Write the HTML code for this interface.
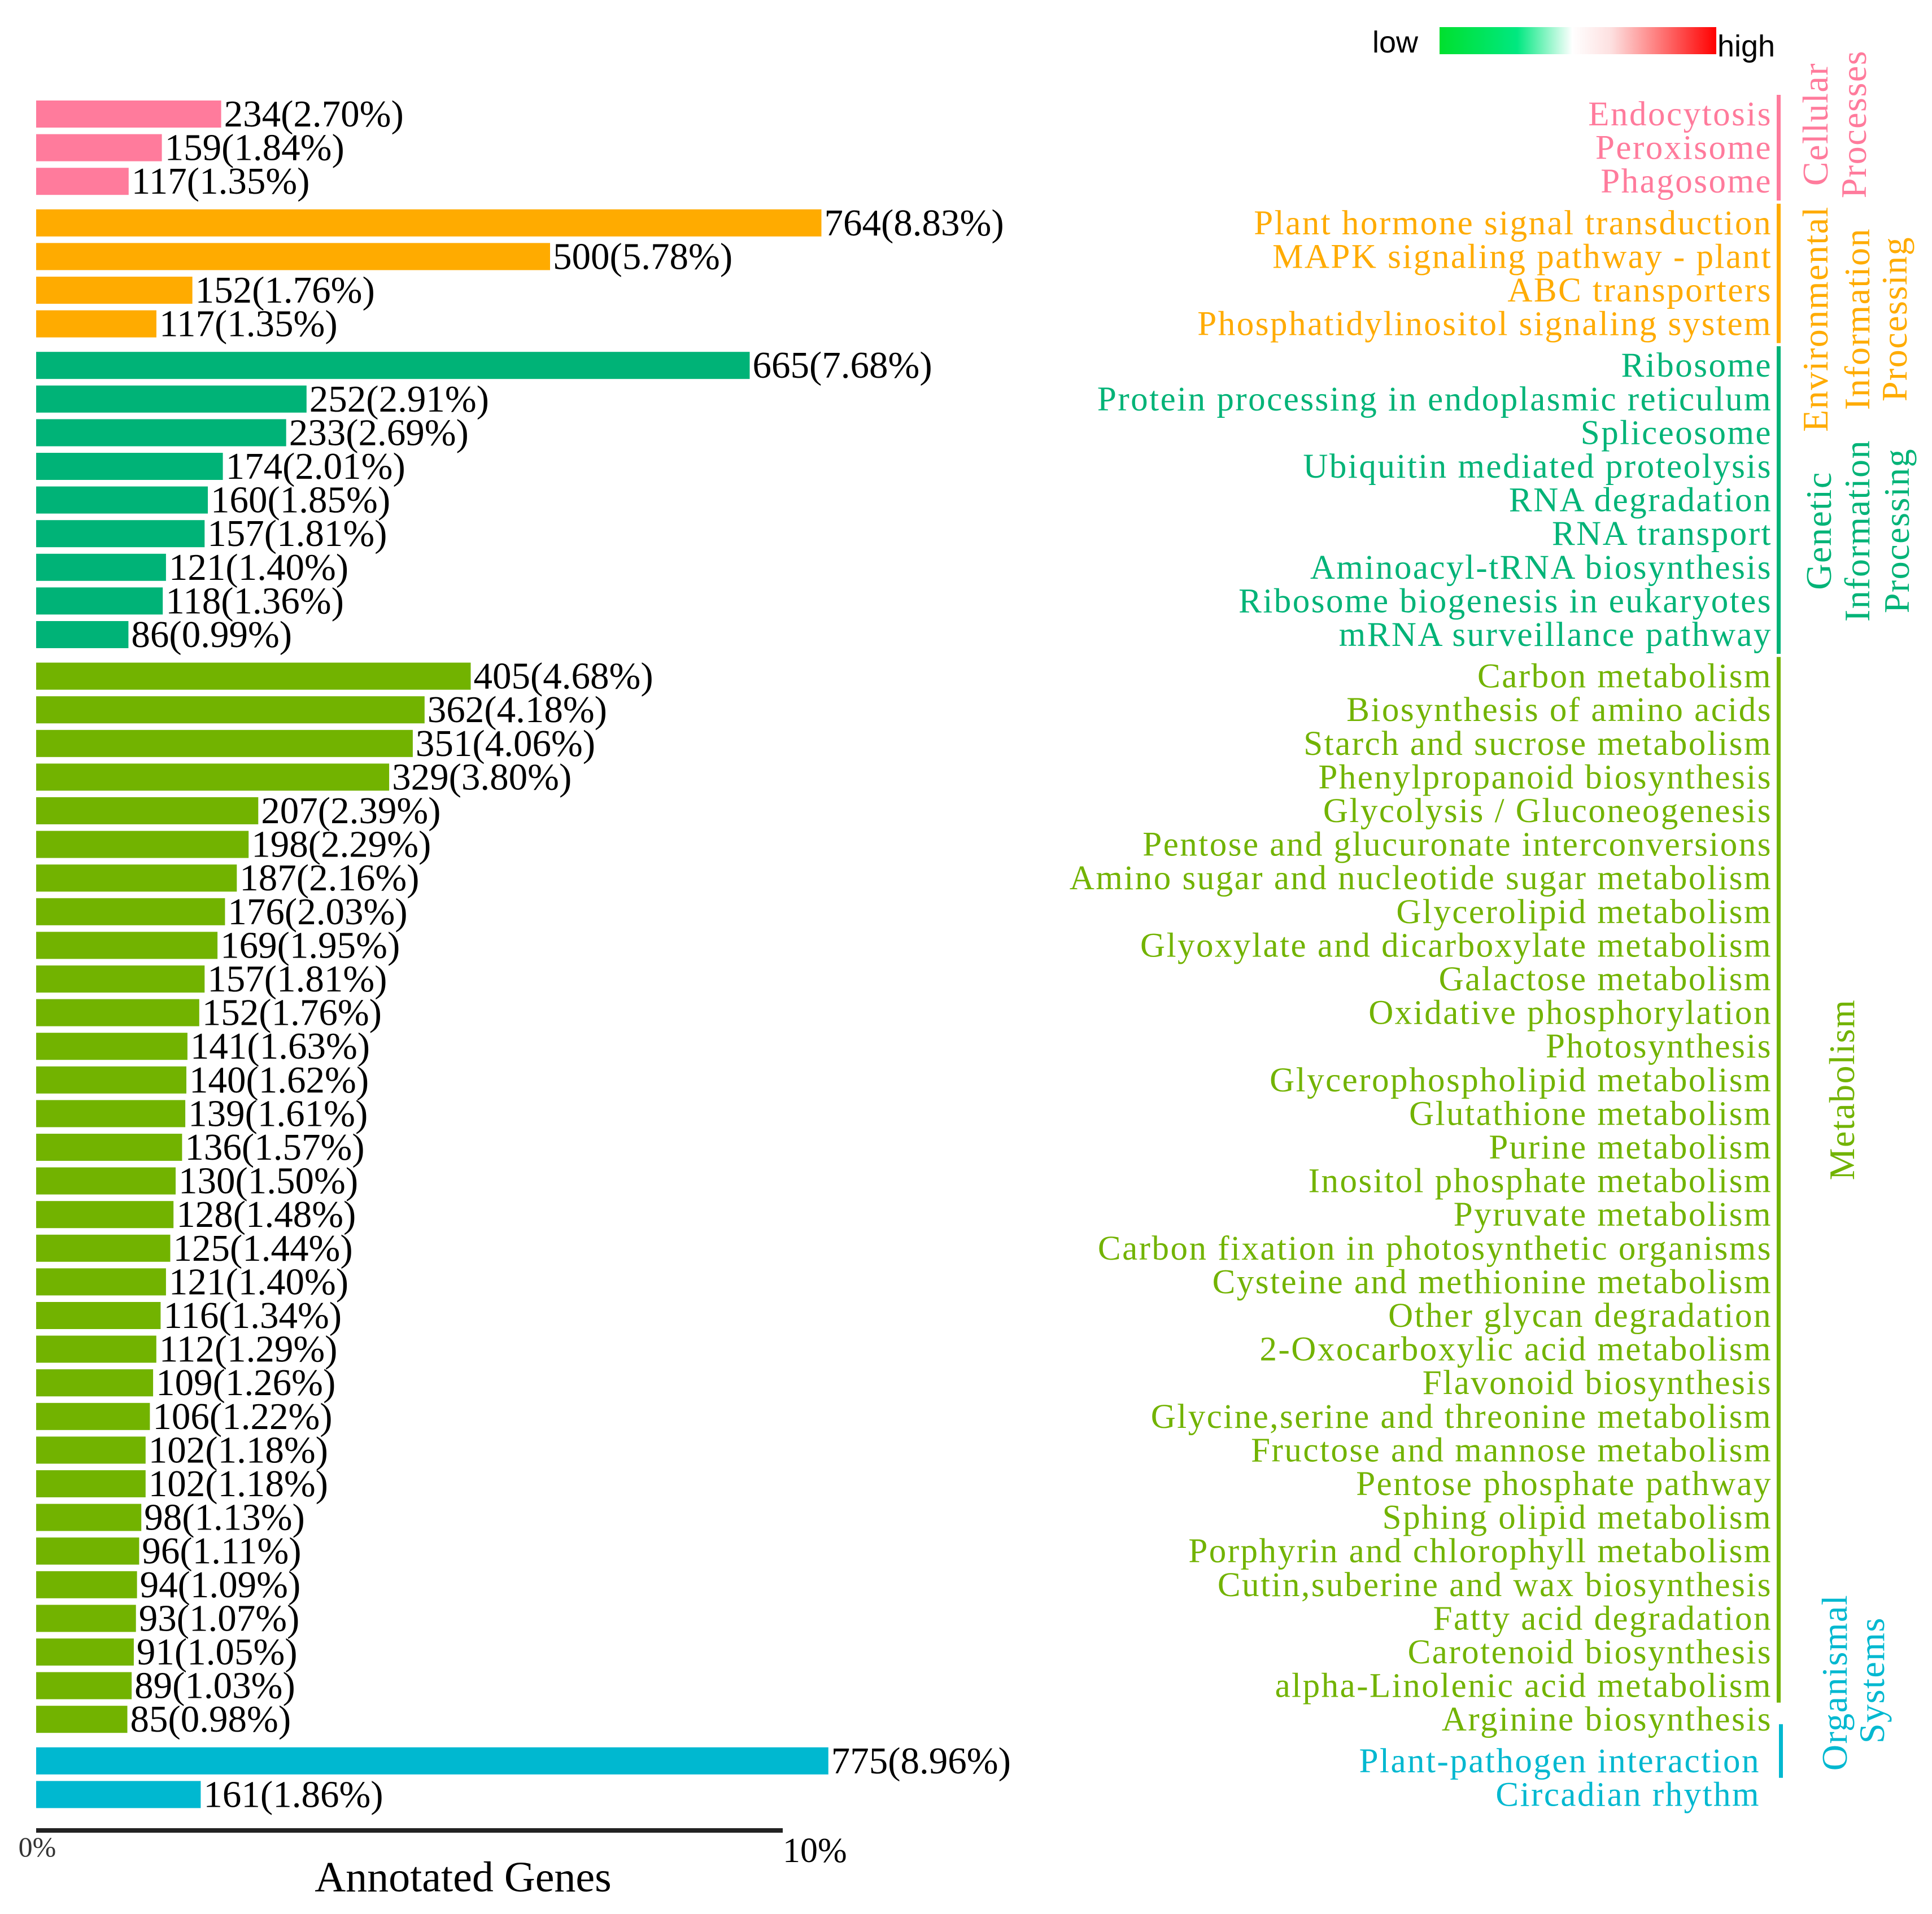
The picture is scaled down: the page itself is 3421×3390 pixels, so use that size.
<!DOCTYPE html>
<html><head><meta charset="utf-8"><style>
html,body{margin:0;padding:0;background:#fff;}
svg{display:block;font-family:"Liberation Serif",serif;}
</style></head><body>
<svg id="chart" width="3421" height="3390" viewBox="0 0 3421 3390" xmlns="http://www.w3.org/2000/svg">
<defs>
<linearGradient id="lh" x1="0" x2="1" y1="0" y2="0">
<stop offset="0" stop-color="#00e02e"/><stop offset="0.28" stop-color="#00e880"/><stop offset="0.48" stop-color="#ffffff"/><stop offset="0.62" stop-color="#fde0e0"/><stop offset="1" stop-color="#ff0000"/>
</linearGradient>
</defs>
<g>
<text x="2430" y="93" font-family="Liberation Sans, sans-serif" font-size="54">low</text>
<rect x="2549" y="48" width="490" height="48" fill="url(#lh)"/>
<text x="3041" y="100" font-family="Liberation Sans, sans-serif" font-size="54">high</text>
</g>
<g id="bars"></g>
<g id="labels"></g>
<g id="groups"></g>
<g>
<rect x="64" y="3238" width="1322" height="8" fill="#222"/>
<text x="66" y="3288" text-anchor="middle" font-size="50" fill="#333">0%</text>
<text x="1386" y="3298" font-size="62">10%</text>
<text x="820" y="3350" text-anchor="middle" font-size="76">Annotated Genes</text>
</g>
</svg>
<script>
const groupNames = ["Cellular Processes","Environmental Information Processing","Genetic Information Processing","Metabolism","Organismal Systems"];
const groupColors = ["#ff7b9c","#ffab00","#00b377","#72b300","#00b8d0"];
const pathways = ["Endocytosis","Peroxisome","Phagosome",
"Plant hormone signal transduction","MAPK signaling pathway - plant","ABC transporters","Phosphatidylinositol signaling system",
"Ribosome","Protein processing in endoplasmic reticulum","Spliceosome","Ubiquitin mediated proteolysis","RNA degradation","RNA transport","Aminoacyl-tRNA biosynthesis","Ribosome biogenesis in eukaryotes","mRNA surveillance pathway",
"Carbon metabolism","Biosynthesis of amino acids","Starch and sucrose metabolism","Phenylpropanoid biosynthesis","Glycolysis / Gluconeogenesis","Pentose and glucuronate interconversions","Amino sugar and nucleotide sugar metabolism","Glycerolipid metabolism","Glyoxylate and dicarboxylate metabolism","Galactose metabolism","Oxidative phosphorylation","Photosynthesis","Glycerophospholipid metabolism","Glutathione metabolism","Purine metabolism","Inositol phosphate metabolism","Pyruvate metabolism","Carbon fixation in photosynthetic organisms","Cysteine and methionine metabolism","Other glycan degradation","2-Oxocarboxylic acid metabolism","Flavonoid biosynthesis","Glycine,serine and threonine metabolism","Fructose and mannose metabolism","Pentose phosphate pathway","Sphing olipid metabolism","Porphyrin and chlorophyll metabolism","Cutin,suberine and wax biosynthesis","Fatty acid degradation","Carotenoid biosynthesis","alpha-Linolenic acid metabolism","Arginine biosynthesis",
"Plant-pathogen interaction","Circadian rhythm"];
const pathwayGroup = [0,0,0,1,1,1,1,2,2,2,2,2,2,2,2,2,3,3,3,3,3,3,3,3,3,3,3,3,3,3,3,3,3,3,3,3,3,3,3,3,3,3,3,3,3,3,3,3,4,4];
const geneCounts = [234,159,117,764,500,152,117,665,252,233,174,160,157,121,118,86,405,362,351,329,207,198,187,176,169,157,152,141,140,139,136,130,128,125,121,116,112,109,106,102,102,98,96,94,93,91,89,85,775,161];
const percentLabels = ["2.70%","1.84%","1.35%","8.83%","5.78%","1.76%","1.35%","7.68%","2.91%","2.69%","2.01%","1.85%","1.81%","1.40%","1.36%","0.99%","4.68%","4.18%","4.06%","3.80%","2.39%","2.29%","2.16%","2.03%","1.95%","1.81%","1.76%","1.63%","1.62%","1.61%","1.57%","1.50%","1.48%","1.44%","1.40%","1.34%","1.29%","1.26%","1.22%","1.18%","1.18%","1.13%","1.11%","1.09%","1.07%","1.05%","1.03%","0.98%","8.96%","1.86%"];

const NS="http://www.w3.org/2000/svg";
const X0=64, Y0=202, STEP=59.6, GAP=14, BAR_H=48;
const groupScale=[1.4,1.82,1.9,1.9,1.81];
function xScale(v,g){return X0+v*groupScale[g];}
function yRow(i){return Y0+i*STEP+pathwayGroup[i]*GAP;}
function mk(tag,attrs,parent){const e=document.createElementNS(NS,tag);for(const k in attrs)e.setAttribute(k,attrs[k]);parent.appendChild(e);return e;}
const gb=document.getElementById('bars'), gl=document.getElementById('labels'), gg=document.getElementById('groups');
for(let i=0;i<geneCounts.length;i++){
  const g=pathwayGroup[i], c=groupColors[g], cy=yRow(i);
  const r=mk('rect',{x:X0,y:cy-BAR_H/2,width:xScale(geneCounts[i],g)-X0,height:BAR_H,fill:c},gb);
  
  
  const t=mk('text',{x:xScale(geneCounts[i],g)+5,y:cy+22,'font-size':67},gb);
  t.textContent=geneCounts[i]+'('+percentLabels[i]+')';
  
  
  const rx = g===4 ? 3117 : 3138;
  const l=mk('text',{x:rx,y:cy+20,'font-size':61,'text-anchor':'end',fill:c,'letter-spacing':'2.5'},gl);
  l.textContent=pathways[i];
  
  
}
for(let g=0;g<groupNames.length;g++){
  const idx=[];pathwayGroup.forEach((p,i)=>{if(p===g)idx.push(i);});
  let top=yRow(idx[0])-34, bot=yRow(idx[idx.length-1])+34;
  if(g===3) bot=yRow(idx[idx.length-2])+30;
  if(g===4){top=yRow(idx[0])-65; bot=yRow(idx[0])+30;}
  const br=mk('rect',{x:g===4?3150:3146,y:top,width:7,height:bot-top,fill:groupColors[g]},gg);
  
  
}
const titleLines=[[["Cellular",3216,220],["Processes",3284,220]],
[["Environmental",3216,565],["Information",3290,565],["Processing",3356,565]],
[["Genetic",3222,940],["Information",3290,940],["Processing",3360,940]],
[["Metabolism",3263,1930]],
[["Organismal",3250,2980],["Systems",3316,2976]]];
titleLines.forEach((lines,g)=>{lines.forEach((ln,k)=>{
  const t=mk('text',{x:0,y:0,transform:'translate('+(ln[1]+20)+','+ln[2]+') rotate(-90)','text-anchor':'middle','font-size':64,fill:groupColors[g],'letter-spacing':'1.5'},gg);
  t.textContent=ln[0];
  
  
});});
</script>
</body></html>
